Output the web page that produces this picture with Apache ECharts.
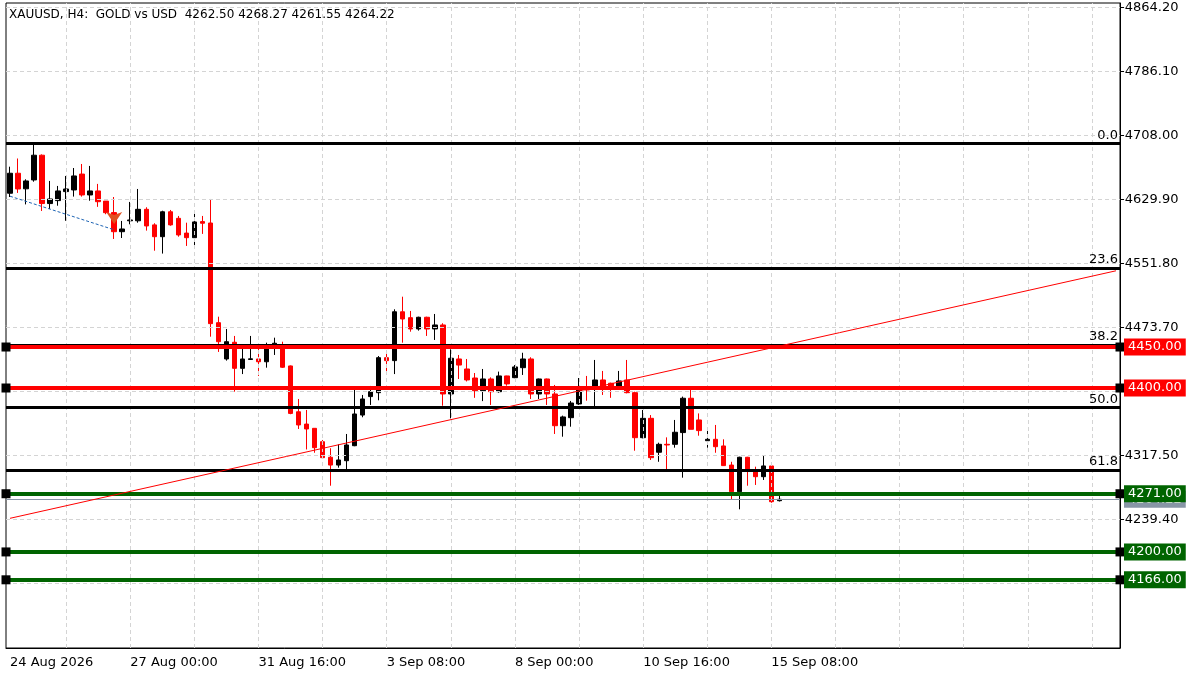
<!DOCTYPE html>
<html><head><meta charset="utf-8">
<script src="https://cdn.jsdelivr.net/npm/echarts@6/dist/echarts.min.js"></script>
<style>html,body{margin:0;padding:0;background:#fff}#c{width:1200px;height:675px}</style>
</head><body><div id="c"></div>
<script>
const open=[4637.6,4662,4643,4653.8,4684,4625,4628.6,4639.6,4641.6,4661,4635.5,4640.4,4628,4614,4590.7,4604,4604,4618,4599,4584.6,4615,4607,4589,4583.4,4603,4601.3,4479.7,4435.4,4455.8,4424,4434.8,4435.4,4432,4452.5,4448.4,4426.9,4371,4356,4350.8,4334.5,4315.5,4306,4311.3,4329.6,4367,4389.5,4394.3,4437,4433.4,4493,4485.8,4472,4486.3,4472,4476.9,4392.7,4435.4,4423.2,4412.2,4396.7,4411,4395.5,4414.7,4412.6,4424.8,4435.4,4392.7,4411,4392.7,4354,4363.8,4380.5,4401.6,4401.6,4409.8,4405.8,4401.6,4409.8,4394.3,4339.4,4363,4321.6,4331.3,4331.3,4345.6,4387.5,4361,4335.7,4337.4,4329.3,4306,4273.5,4315.5,4297.9,4291.8,4304.9,4262.5];
const close=[4662,4642.8,4652.6,4684,4625,4630.6,4640.4,4642.8,4658.7,4635.5,4640.4,4627.3,4613.9,4590.7,4594,4605,4618,4597.7,4584.6,4615,4599,4586.7,4583.4,4602.6,4601,4478.5,4456.5,4456.5,4424,4435.4,4435.6,4432,4448.4,4454.6,4425.3,4369,4354.9,4350,4327.2,4315,4306,4312.2,4330.5,4368.3,4386.6,4395.5,4437,4433.4,4493,4484.2,4472,4486.3,4472,4476.9,4392.7,4436.3,4428,4409.8,4396.7,4411,4395.5,4414.7,4405,4425.7,4435.4,4392.7,4411,4392.7,4354,4364.7,4381.7,4398,4397.6,4409.8,4400.9,4401,4408.6,4394.3,4339.4,4363,4315,4331.3,4330.5,4346,4387.5,4349.6,4348,4337.4,4328.4,4305.3,4273.5,4315.5,4301.2,4291.8,4304.9,4261.3,4264.22];
const low=[4633,4638,4624,4651.7,4616,4618.4,4622.4,4604,4633.5,4633.5,4628.5,4621,4612,4581.8,4583,4599.7,4601.7,4592,4567.5,4564,4598,4584.6,4573.3,4569.6,4588,4462.6,4444,4433.4,4395.5,4417,4434.6,4414.7,4424.8,4440.3,4424.4,4368,4350,4325,4321,4314,4280.8,4302.8,4300,4329,4364.3,4379.3,4385,4417,4417,4455.3,4468.7,4470,4463.5,4458.6,4378.4,4363,4411,4408,4388,4384,4379.3,4394.3,4402.8,4412,4415.9,4386.6,4386.6,4379.3,4343.9,4340.6,4352.8,4379.3,4384.5,4376.5,4391.5,4388,4400.9,4393.5,4323.5,4338.6,4312.2,4310,4301,4327.2,4290.6,4349.6,4341.8,4327.2,4321,4305,4264,4252,4280.8,4281.7,4287.8,4260,4261.55];
const high=[4670,4680,4654.6,4696.5,4685,4652.6,4646.5,4658.7,4668.4,4673.3,4670.9,4649,4628,4633,4603.8,4627,4642.8,4620.5,4601,4616.3,4617.2,4609.9,4601.7,4614.8,4609.9,4630.6,4487,4472,4463.5,4448.4,4463.5,4448.4,4455.3,4461.4,4456.5,4427.5,4386.6,4373.2,4351,4336.6,4326.5,4331.3,4343.9,4397.6,4391.5,4402.5,4439,4444.3,4496,4511.4,4494,4487,4487,4490.3,4479,4447.2,4440.3,4435.4,4418.3,4423.2,4413,4420,4415,4428,4443,4437.5,4411.5,4411.5,4403.7,4366.3,4384.2,4412.2,4414.7,4434.2,4420.8,4406.5,4420.8,4434.2,4395.5,4373.2,4367,4333.3,4339.8,4361,4389.5,4397.6,4369,4347.6,4354.9,4337.4,4310,4316.2,4316,4304,4317,4307.3,4268.27];
const priceTicks=[4864.2,4786.1,4708.0,4629.9,4551.8,4473.7,4395.6,4317.5,4239.4,4161.3];
const dateTicks={0:'24 Aug 2026',15:'27 Aug 00:00',31:'31 Aug 16:00',47:'3 Sep 08:00',63:'8 Sep 00:00',79:'10 Sep 16:00',95:'15 Sep 08:00'};
const fibLevels=[['0.0',4698],['23.6',4546],['38.2',4452],['50.0',4376],['61.8',4300]];
const redLevels=[4450,4400];
const greenLevels=[4271,4200,4166];
const lastPrice=4264.22;
const trendLine=[[0,4241],[138,4543]];
const blueLine=[[0,4634],[13,4593]];
const NSLOTS=139;

const cats=[];for(let i=0;i<NSLOTS;i++)cats.push(String(i));
const candles=open.map((o,i)=>[o,close[i],low[i],high[i]]);
const F='DejaVu Sans';
const ml=[];
priceTicks.forEach(p=>ml.push({yAxis:p,lineStyle:{color:'#d4d4d4',type:[4,3],width:1},
  label:{show:true,position:'end',formatter:'-'+p.toFixed(2),color:'#000',fontFamily:F,fontSize:13,distance:0}}));
for(let i=7;i<NSLOTS;i+=8) ml.push({xAxis:String(i),lineStyle:{color:'#d4d4d4',type:[4,3],width:1},label:{show:false}});
fibLevels.forEach(([t,p])=>ml.push({yAxis:p,lineStyle:{color:'#000',type:'solid',width:3},
  label:{show:true,position:'insideEndTop',formatter:t,color:'#000',fontFamily:F,fontSize:13,distance:2}}));
ml.push({yAxis:lastPrice,lineStyle:{color:'#8896a6',type:'solid',width:1},
  label:{show:true,position:'end',formatter:lastPrice.toFixed(2),color:'#fff',backgroundColor:'#8896a6',padding:[2,4],fontFamily:F,fontSize:13,distance:4}});
redLevels.forEach(p=>ml.push({yAxis:p,lineStyle:{color:'#ff0000',type:'solid',width:4},
  label:{show:true,position:'end',formatter:p.toFixed(2),color:'#fff',backgroundColor:'#ff0000',padding:[2,4],fontFamily:F,fontSize:13,distance:4}}));
greenLevels.forEach(p=>ml.push({yAxis:p,lineStyle:{color:'#006400',type:'solid',width:4},
  label:{show:true,position:'end',formatter:p.toFixed(2),color:'#fff',backgroundColor:'#006400',padding:[2,4],fontFamily:F,fontSize:13,distance:4}}));
ml.push([{coord:[String(trendLine[0][0]),trendLine[0][1]],lineStyle:{color:'#ff0000',width:1,type:'solid'},label:{show:false}},{coord:[String(trendLine[1][0]),trendLine[1][1]]}]);
ml.push([{coord:[String(blueLine[0][0]),blueLine[0][1]],lineStyle:{color:'#1e64b4',width:1,type:[3,2]},label:{show:false}},{coord:[String(blueLine[1][0]),blueLine[1][1]]}]);
const squares=[...redLevels,...greenLevels].map(p=>({yAxis:p,lineStyle:{color:'#000',width:0},label:{show:false}}));

const chart=echarts.init(document.getElementById('c'),null,{renderer:'canvas'});
chart.setOption({
  animation:false,backgroundColor:'#fff',
  title:{text:'XAUUSD, H4:  GOLD vs USD  4262.50 4268.27 4261.55 4264.22',left:4,top:4,textStyle:{fontFamily:F,fontSize:12,fontWeight:'normal',color:'#000'}},
  grid:{left:6,right:80,top:3,bottom:27,show:true,borderColor:'#000',borderWidth:1},
  xAxis:{type:'category',data:cats,boundaryGap:true,
    axisLine:{lineStyle:{color:'#000'}},
    axisTick:{alignWithLabel:true,interval:(i)=>dateTicks[i]!==undefined,lineStyle:{color:'#000'}},
    axisLabel:{interval:(i)=>dateTicks[i]!==undefined,formatter:(v)=>dateTicks[v]||'',align:'left',margin:8,color:'#000',fontFamily:F,fontSize:13},
    splitLine:{show:false}},
  yAxis:{type:'value',position:'right',min:4082.8,max:4869.7,axisLabel:{show:false},axisTick:{show:false},splitLine:{show:false},axisLine:{show:true,lineStyle:{color:'#000'}}},
  series:[
   {type:'candlestick',data:candles,barWidth:5,
    itemStyle:{color:'#000',color0:'#ff0000',borderColor:'#000',borderColor0:'#ff0000',borderWidth:1},
    markLine:{silent:true,animation:false,symbol:['none','none'],data:ml},
    markPoint:{silent:true,data:[{coord:['13',4600],symbol:'arrow',symbolRotate:180,symbolSize:[12,12],itemStyle:{color:'#e05020'},label:{show:false}}]}},
   {type:'line',data:[],markLine:{silent:true,animation:false,symbol:['rect','rect'],symbolSize:9,data:squares}}
  ]
});
</script></body></html>
